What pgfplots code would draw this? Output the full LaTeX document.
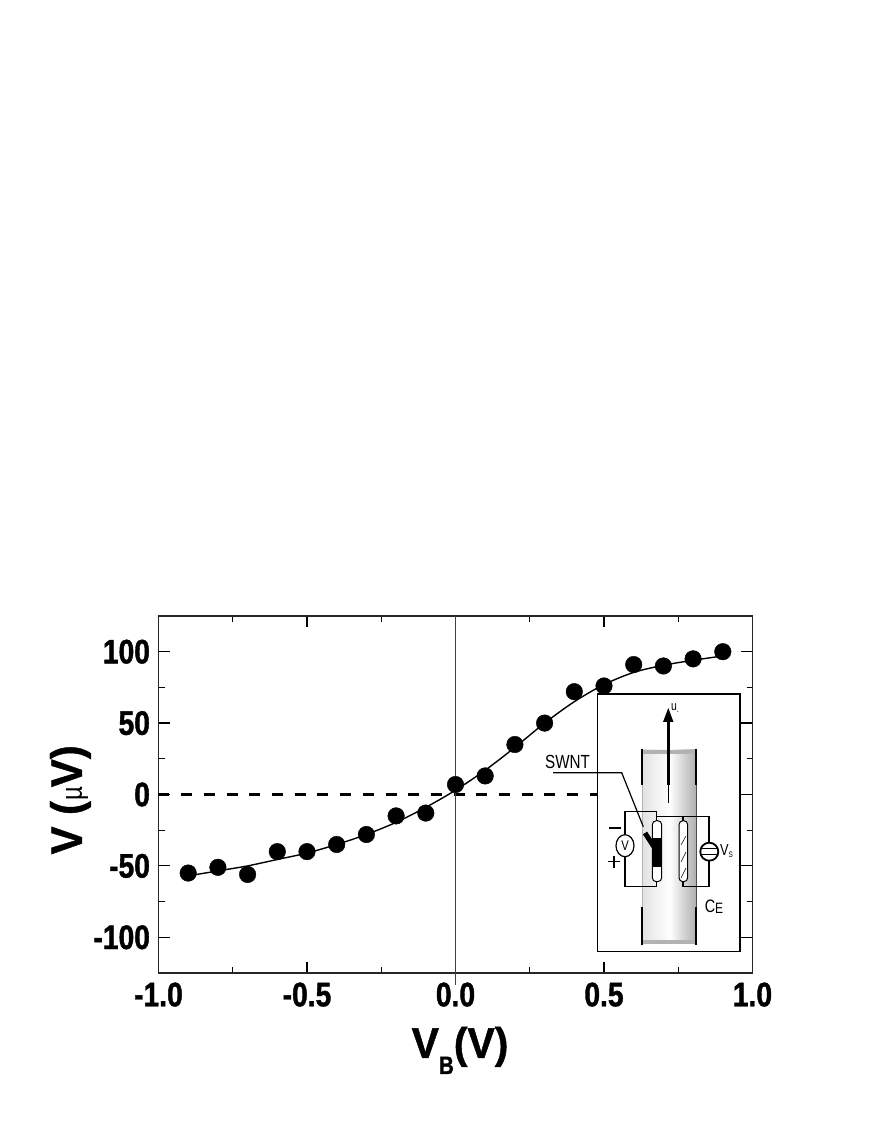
\documentclass[border=0pt]{standalone}
\usepackage{fontspec}
\usepackage{pgfplots}
\pgfplotsset{compat=1.18}
\setmainfont{Liberation Sans}
\newfontfamily\tickfont[FakeStretch=0.83,FakeBold=1.2]{Liberation Sans Bold}
\newfontfamily\labelfont[FakeStretch=0.95,FakeBold=1]{Liberation Sans Bold}
\newfontfamily\insetfont[FakeStretch=0.8]{Liberation Sans}
\begin{document}
\begin{tikzpicture}[x=1pt,y=1pt]
\path[use as bounding box] (0,0) rectangle (872,1128);
\begin{axis}[
    at={(158.5pt,155pt)}, anchor=south west,
    scale only axis, width=594pt, height=357pt,
    xmin=-1, xmax=1, ymin=-125, ymax=125,
    xtick={-1,-0.5,0,0.5,1}, ytick={-100,-50,0,50,100},
    minor x tick num=1, minor y tick num=1,
    tick align=inside,
    major tick length=11pt, minor tick length=6pt,
    every tick/.style={black,line width=1.2pt},
    axis line style={line width=1.5pt,black!85},
    clip=false,
    /pgf/number format/assume math mode=true,
    /pgf/number format/fixed,
    xticklabel style={/pgf/number format/fixed zerofill,/pgf/number format/precision=1,
        font=\fontsize{34}{38}\tickfont, yshift=-6pt},
    yticklabel style={font=\fontsize{34}{38}\tickfont, xshift=-5pt},
    xlabel={\fontsize{43}{48}\labelfont V\raisebox{-16pt}{\fontsize{25}{28}\tickfont B}(V)},
    xlabel style={at={(axis description cs:0.5076,-0.238)},anchor=base},
    ylabel={\fontsize{44}{50}\labelfont V (\fontsize{30}{36}\insetfont µ\fontsize{44}{50}\labelfont V)},
    ylabel style={at={(axis description cs:-0.129,0.485)},anchor=base,rotate=0},
]
% zero line and vertical line
\addplot[black,line width=2.6pt,dash pattern=on 11pt off 11.7pt] coordinates {(-1,0) (0.49,0)};
\addplot[black!75,line width=1pt] coordinates {(0,125) (0,-133.4)};
% fit curve
\addplot[black,line width=1.4pt,smooth] coordinates {
(-0.9,-57) (-0.8,-53.5) (-0.7,-50) (-0.6,-45.5) (-0.5,-41) (-0.4,-35) (-0.3,-28)
(-0.2,-19.5) (-0.1,-9) (0,3) (0.1,17) (0.2,33) (0.3,50) (0.4,65) (0.5,77)
(0.6,85.5) (0.7,90.5) (0.8,94) (0.9,97)};
% measured points
\addplot[only marks,mark=*,mark size=8.3pt,black] coordinates {
(-0.9,-55) (-0.8,-51) (-0.7,-56) (-0.6,-40) (-0.5,-40) (-0.4,-35) (-0.3,-28)
(-0.2,-15) (-0.1,-13) (0,7) (0.1,13) (0.2,35) (0.3,50) (0.4,72) (0.5,76)
(0.6,91) (0.7,90) (0.8,95) (0.9,100)};
\end{axis}
% inset schematic, in image pixels (y downwards)
\begin{scope}[shift={(0,1128)},y=-1pt]
\draw[fill=white,line width=1.3pt] (597.7,694) rectangle (740,951.7);
\shade[left color=gray!22,right color=gray!65,middle color=white] (642.7,750) rectangle (696.7,943);
\fill[gray!60] (642.7,750) rectangle (696.7,754);
\fill[gray!60] (642.7,940) rectangle (696.7,944);
\draw[line width=2pt] (642,749) -- (642,785) (642,907) -- (642,945);
\draw[line width=2pt] (695.7,749) -- (695.7,785) (695.7,907) -- (695.7,945);
\draw[black!30,line width=.8pt] (642.7,785) -- (642.7,907);
\draw[black!70,line width=.8pt] (696.5,785) -- (696.5,907);
% arrow
\draw[line width=2.4pt] (668.3,785) -- (668.3,716);
\draw[line width=.9pt] (668.3,785) -- (668.3,803);
\fill (668.3,708) -- (673.5,722) -- (663,722) -- cycle;
\node[font=\fontsize{13}{14}\insetfont,anchor=west,inner sep=0pt] at (671,708) {u\textsubscript{.}};
% circuit
\draw[line width=1.4pt] (643,886.7) -- (625,886.7) -- (625,811.7) -- (656.7,811.7) -- (656.7,820);
\draw[line width=1pt] (643,886.7) -- (656.7,886.7) (656.7,881) -- (656.7,886.7);
\draw[line width=1.1pt] (656.7,816.7) -- (709,816.7) -- (709,886.7) -- (683,886.7) -- (683,882);
\draw[line width=1.1pt] (683,816.7) -- (683,821);
% voltmeter
\draw[fill=white,line width=1.2pt] (625,845.7) ellipse (9pt and 11pt);
\node[font=\fontsize{14}{15}\insetfont,inner sep=0pt] at (625,846) {V};
\draw[line width=1.2pt] (609,828) -- (621,828);
\draw[line width=1.2pt] (608,861.7) -- (620,861.7) (614,855.7) -- (614,867.7);
% current source
\draw[fill=white,line width=1.8pt] (709.3,851.7) circle (9pt);
\draw[line width=1.6pt] (700.5,848.5) -- (718,848.5) (700.5,854.5) -- (718,854.5);
\node[font=\fontsize{16}{17}\insetfont,anchor=west,inner sep=0pt] at (720,851) {V\raisebox{-2pt}{\fontsize{8}{9}\insetfont S}};
% nanotube electrodes
\draw[fill=white,line width=1pt,rounded corners=4pt] (652.3,820.7) rectangle (661.7,881.7);
\fill (652.3,838) rectangle (661.7,866.7);
\draw[line width=5pt] (645,833) -- (656,850);
\draw[fill=white,line width=1pt,rounded corners=4pt] (679,820.7) rectangle (687.7,881.7);
\draw[line width=.5pt] (681,878) -- (686,868) (681,862) -- (686,852) (681,845) -- (686,836);
% SWNT pointer
\draw[line width=1.2pt] (553,772.7) -- (621.7,772.7) -- (643.3,826.7);
\node[font=\fontsize{19}{20}\insetfont,inner sep=0pt] at (567.5,762) {SWNT};
\node[font=\fontsize{18}{19}\insetfont,inner sep=0pt] at (714,907) {C\raisebox{-1pt}{\fontsize{15}{16}\insetfont E}};
\end{scope}
\end{tikzpicture}
\end{document}
